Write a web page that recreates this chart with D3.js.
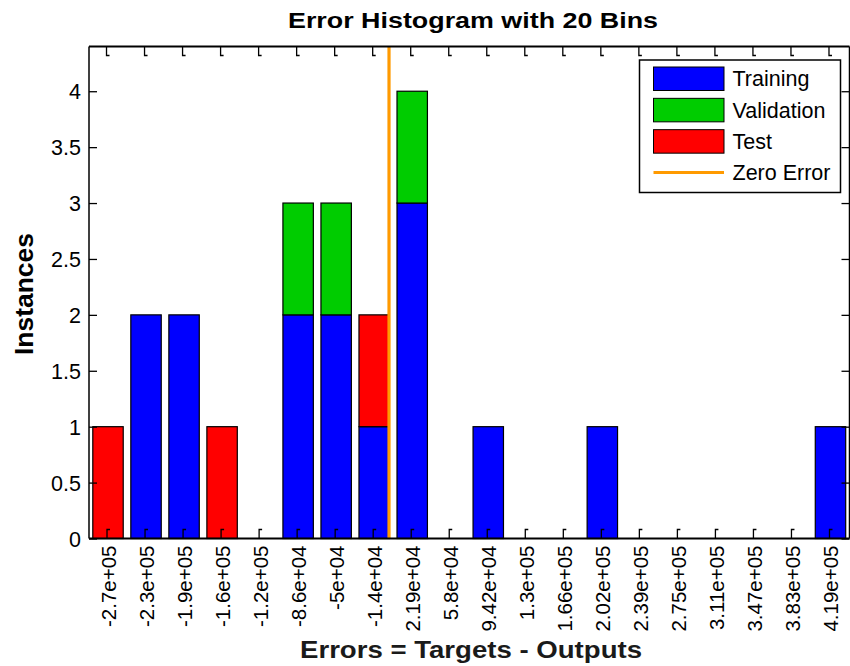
<!DOCTYPE html>
<html>
<head>
<meta charset="utf-8">
<script src="https://cdn.jsdelivr.net/npm/d3@7"></script>
<style>
	body { margin: 0; background: #fff; }
	svg { display: block; font-family: 'Liberation Sans', Arial, sans-serif; }
	.frame line, .ticks path, .ticks line { stroke: #000; fill: none; }
</style>
</head>
<body>
<svg id="chart" width="850" height="666"></svg>
<script>
'use strict';

// bin centers as printed under the axis
var binLabels = ['-2.7e+05','-2.3e+05','-1.9e+05','-1.6e+05','-1.2e+05','-8.6e+04','-5e+04','-1.4e+04',
	'2.19e+04','5.8e+04','9.42e+04','1.3e+05','1.66e+05','2.02e+05','2.39e+05','2.75e+05',
	'3.11e+05','3.47e+05','3.83e+05','4.19e+05'];
var binCenters = [-270000,-234000,-197000,-161000,-125000,-86000,-50000,-14000,
	21900,58000,94200,130000,166000,202000,239000,275000,311000,347000,383000,419000];

var training   = [0,2,2,0,0,2,2,1,3,0,1,0,0,1,0,0,0,0,0,1];
var validation = [0,0,0,0,0,1,1,0,1,0,0,0,0,0,0,0,0,0,0,0];
var test       = [1,0,0,1,0,0,0,1,0,0,0,0,0,0,0,0,0,0,0,0];

var seriesNames = ['Training','Validation','Test'];
var seriesColors = ['#0000ff','#00cc00','#ff0000'];
var zeroColor = '#ff9a00';

var yTicks = [0,0.5,1,1.5,2,2.5,3,3.5,4];
var yMax = 4.4;

var margin = { left: 89, top: 46.5, right: 0.5, bottom: 127.5 };
var W = 850, H = 666;

var svg = d3.select('#chart');

var rows = binLabels.map(function(l, i) {
	return { bin: l, Training: training[i], Validation: validation[i], Test: test[i] };
});

var x = d3.scaleBand()
	.domain(binLabels)
	.range([margin.left, W - margin.right])
	.paddingInner(0.2)
	.paddingOuter(0.1)
	;
var bw = x.bandwidth();
var center = function(l) { return x(l) + bw/2; };

var y = d3.scaleLinear()
	.domain([0, yMax])
	.range([H - margin.bottom, margin.top])
	;

// error value -> pixel, piecewise through the bin centers
var errX = d3.scaleLinear()
	.domain(binCenters)
	.range(binLabels.map(center))
	;

var stacked = d3.stack().keys(seriesNames)(rows);

var bars = svg.append('g').attr('class', 'bars');
stacked.forEach(function(layer, k) {
	bars.append('g')
		.attr('fill', seriesColors[k])
		.attr('stroke', '#000')
		.attr('stroke-width', 1.2)
		.selectAll('rect')
		.data(layer.filter(function(d) { return d[1] > d[0]; }))
		.join('rect')
			.attr('x', function(d) { return x(d.data.bin); })
			.attr('width', bw)
			.attr('y', function(d) { return y(d[1]); })
			.attr('height', function(d) { return y(d[0]) - y(d[1]); })
		;
});

// zero error line
var zx = errX(0);
svg.append('line')
	.attr('x1', zx).attr('x2', zx)
	.attr('y1', y(yMax)).attr('y2', y(0))
	.attr('stroke', zeroColor)
	.attr('stroke-width', 3.2)
	;

// axes box
var x0 = margin.left, x1 = W - margin.right, yb = y(0), yt = y(yMax);
var frame = svg.append('g').attr('class', 'frame').attr('stroke-width', 1.5);
frame.append('line').attr('x1', x0).attr('x2', x1).attr('y1', yt).attr('y2', yt).attr('stroke-width', 2);
frame.append('line').attr('x1', x0).attr('x2', x1).attr('y1', yb).attr('y2', yb).attr('stroke-width', 2);
frame.append('line').attr('x1', x0).attr('x2', x0).attr('y1', yt).attr('y2', yb);
frame.append('line').attr('x1', x1).attr('x2', x1).attr('y1', yt).attr('y2', yb);

// x ticks, inward on top and bottom (small hooked marks)
var ticks = svg.append('g').attr('class', 'ticks').attr('stroke-width', 1.3);
ticks.selectAll('.xt-top')
	.data(binLabels)
	.join('path')
		.attr('class', 'xt-top')
		.attr('d', function(l) { var c = center(l) - 1.5; return 'M' + c + ',' + yt + 'V' + (yt + 9) + 'H' + (c + 3); })
	;
ticks.selectAll('.xt-bot')
	.data(binLabels)
	.join('path')
		.attr('class', 'xt-bot')
		.attr('d', function(l) { var c = center(l) - 1; return 'M' + c + ',' + yb + 'V' + (yb - 9) + 'H' + (c + 3); })
	;

// y ticks on both sides
var yAxisL = d3.axisLeft(y).tickValues(yTicks).tickSize(-8).tickPadding(16).tickFormat(d3.format('~g'));
var gl = svg.append('g')
	.attr('transform', 'translate(' + x0 + ',0)')
	.call(yAxisL)
	;
gl.select('.domain').remove();
gl.selectAll('.tick line').attr('stroke', '#000').attr('stroke-width', 1.3);
gl.selectAll('.tick text')
	.attr('font-size', 21.5)
	.attr('fill', '#000')
	.attr('x', -8)
	.attr('dy', '0.36em')
	.style('font-family', "'Liberation Sans', Arial, sans-serif")
	;

var yAxisR = d3.axisRight(y).tickValues(yTicks).tickSize(-8).tickFormat('');
var gr = svg.append('g')
	.attr('transform', 'translate(' + x1 + ',0)')
	.call(yAxisR)
	;
gr.select('.domain').remove();
gr.selectAll('.tick line').attr('stroke', '#000').attr('stroke-width', 1.3);

// x tick labels, rotated
svg.append('g')
	.selectAll('text')
	.data(binLabels)
	.join('text')
		.attr('transform', function(l) { return 'translate(' + center(l) + ',' + (yb + 7) + ') rotate(-90)'; })
		.attr('text-anchor', 'end')
		.attr('dy', '0.37em')
		.attr('font-size', 20.5)
		.text(function(l) { return l; })
	;

// titles
svg.append('text')
	.attr('x', 473).attr('y', 28.3)
	.attr('text-anchor', 'middle')
	.attr('font-size', 22.5)
	.attr('font-weight', 'bold')
	.attr('textLength', 370)
	.attr('lengthAdjust', 'spacingAndGlyphs')
	.text('Error Histogram with 20 Bins')
	;
svg.append('text')
	.attr('x', 471).attr('y', 658)
	.attr('text-anchor', 'middle')
	.attr('font-size', 24.5)
	.attr('font-weight', 'bold')
	.attr('fill', '#1a1a1a')
	.attr('textLength', 342)
	.attr('lengthAdjust', 'spacingAndGlyphs')
	.text('Errors = Targets - Outputs')
	;
svg.append('text')
	.attr('transform', 'translate(33,294) rotate(-90)')
	.attr('text-anchor', 'middle')
	.attr('font-size', 25)
	.attr('font-weight', 'bold')
	.attr('textLength', 122)
	.attr('lengthAdjust', 'spacingAndGlyphs')
	.text('Instances')
	;

// legend
var legend = svg.append('g').attr('transform', 'translate(639.5,60)');
legend.append('rect')
	.attr('width', 201).attr('height', 132.5)
	.attr('fill', '#fff')
	.attr('stroke', '#000')
	.attr('stroke-width', 1.5)
	;
var legendItems = seriesNames.concat(['Zero Error']);
var rowY = d3.scalePoint().domain(legendItems).range([18.5, 112.5]);
legendItems.forEach(function(name, k) {
	var cy = rowY(name);
	if (k < 3) {
		legend.append('rect')
			.attr('x', 14).attr('y', cy - 11.5)
			.attr('width', 70.5).attr('height', 23.5)
			.attr('fill', seriesColors[k])
			.attr('stroke', '#000')
			.attr('stroke-width', 1)
			;
	} else {
		legend.append('line')
			.attr('x1', 14).attr('x2', 84.5)
			.attr('y1', cy).attr('y2', cy)
			.attr('stroke', zeroColor)
			.attr('stroke-width', 3.2)
			;
	}
	legend.append('text')
		.attr('x', 93).attr('y', cy)
		.attr('dy', '0.36em')
		.attr('font-size', 21.5)
		.text(name)
		;
});
</script>
</body>
</html>
